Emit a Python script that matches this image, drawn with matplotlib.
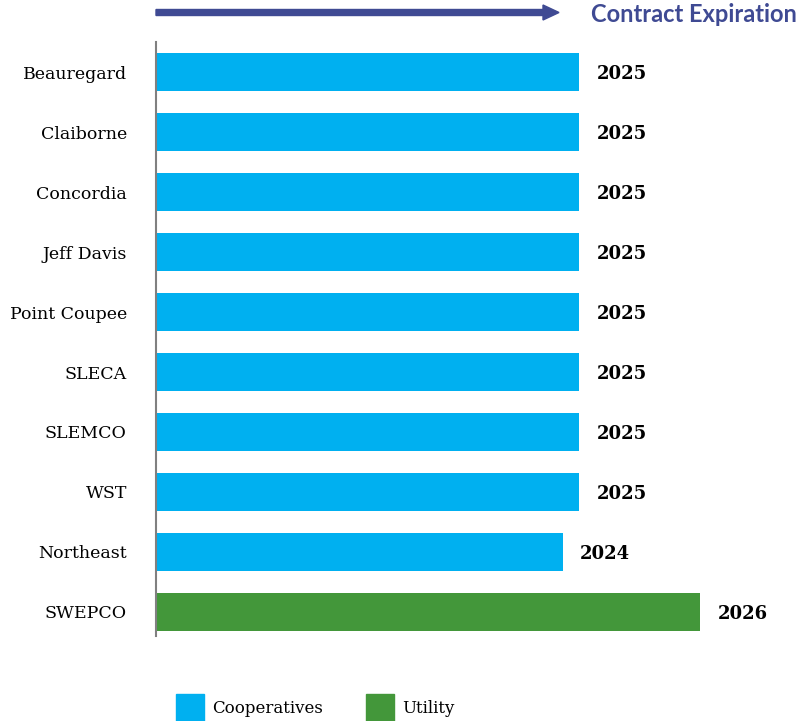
import matplotlib.pyplot as plt
from matplotlib.patches import Patch, FancyArrow

# Data
names = ['Beauregard', 'Claiborne', 'Concordia', 'Jeff Davis', 'Point Coupee',
         'SLECA', 'SLEMCO', 'WST', 'Northeast', 'SWEPCO']
expiry = [2025.0, 2025.0, 2025.0, 2025.0, 2025.0, 2025.0, 2025.0, 2025.0, 2024.86, 2026.0]
labels = ['2025', '2025', '2025', '2025', '2025', '2025', '2025', '2025', '2024', '2026']
group = ['Cooperatives'] * 9 + ['Utility']

coop_color = '#00B0F0'
util_color = '#43973A'
colors = [coop_color if g == 'Cooperatives' else util_color for g in group]

W, H = 803, 721
fig = plt.figure(figsize=(W / 100, H / 100), dpi=100)
ax = fig.add_axes([156 / W, 1 - 636 / H, 647 / W, (636 - 42) / H])

x0 = 2021.5
ypos = list(range(len(names)))
ax.barh(ypos, [e - x0 for e in expiry], left=x0, height=0.63, color=colors)
ax.set_xlim(x0, x0 + 647 / 121)
ax.set_ylim(9.4, -0.5)

for y, e, lab in zip(ypos, expiry, labels):
    ax.text(e + 0.14, y, lab, va='center_baseline', ha='left', fontsize=13,
            fontweight='bold', family='DejaVu Serif')

ax.set_yticks(ypos)
ax.set_yticklabels(names, fontsize=12.5, family='DejaVu Serif')
ax.tick_params(axis='y', length=0, pad=21)
ax.set_xticks([])
for s in ['top', 'right', 'bottom']:
    ax.spines[s].set_visible(False)
ax.spines['left'].set_color('#808080')
ax.spines['left'].set_linewidth(1.5)

# arrow + heading
fig.patches.append(FancyArrow(
    156 / W, 1 - 12.5 / H, 403 / W, 0, width=6 / H, head_width=15 / H,
    head_length=16 / W, length_includes_head=True, color='#3F4A93',
    transform=fig.transFigure))
fig.text(591 / W, 1 - 14 / H, 'Contract Expiration', fontsize=17, fontweight='bold',
         color='#3F4A93', family='Lato', va='center', ha='left')

handles = [Patch(color=coop_color, label='Cooperatives'),
           Patch(color=util_color, label='Utility')]
fs = 12
em = fs * 100 / 72
fig.legend(handles=handles, loc='center left', bbox_to_anchor=(176 / W, 1 - 708 / H),
           ncol=2, frameon=False, borderpad=0, borderaxespad=0,
           handlelength=28 / em, handleheight=37 / em, handletextpad=8 / em,
           columnspacing=43 / em, prop={'family': 'DejaVu Serif', 'size': fs})

fig.savefig('out.png', dpi=100)
